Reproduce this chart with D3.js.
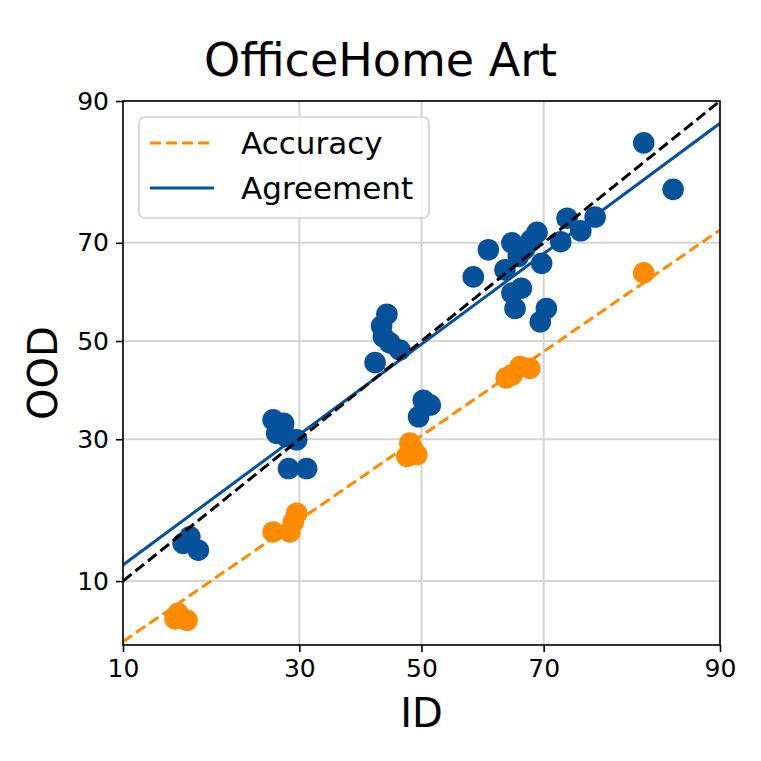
<!DOCTYPE html>
<html>
<head>
<meta charset="utf-8">
<script src="https://cdn.jsdelivr.net/npm/d3@7"></script>
<style>
  body { margin: 0; background: #fff; }
  text { font-family: "DejaVu Sans", sans-serif; }
</style>
</head>
<body>
<script>
// values (percent)
var blueId  = [83.0, 86.0, 73.4, 77.2, 75.3, 72.5, 69.0, 68.1, 65.1, 61.3,
               66.1, 69.7, 64.0, 58.8, 66.6, 65.1, 65.6, 70.4, 69.5, 67.1,
               44.1, 43.2, 43.5, 46.3, 44.6, 42.1, 50.3, 49.5, 51.5,
               26.2, 27.7, 26.7, 28.1, 29.6, 28.4, 31.1,
               16.0, 16.9, 15.3];
var blueOod = [85.5, 79.1, 74.4, 74.6, 72.2, 70.2, 71.9, 70.5, 70.0, 68.7,
               67.4, 66.1, 64.8, 63.4, 61.1, 60.1, 56.9, 56.9, 54.1, 68.8,
               55.7, 53.2, 50.9, 48.1, 49.6, 45.4, 37.6, 34.3, 36.6,
               33.7, 33.0, 31.1, 30.5, 29.9, 24.8, 24.8,
               14.8, 13.2, 14.0];
var orangeId  = [83.0, 65.1, 66.4, 67.9, 64.2, 48.0, 47.5, 49.2, 48.4,
                 26.2, 28.6, 29.6, 29.1, 14.8, 15.7, 14.5];
var orangeOod = [64.2, 42.8, 44.6, 44.2, 42.2, 29.3, 26.9, 27.2, 28.4,
                 15.4, 15.4, 17.9, 16.7, 7.3, 6.8, 6.9];

// linear fits in probit space: [accuracy, agreement]
var fitNames = ["Accuracy", "Agreement"];
var fitSlopes = [0.8576, 0.920];
var fitIntercepts = [-0.5061, -0.0166];

var tickVals = [10, 30, 50, 70, 90];
var xLimits = [10, 90];
var yLimits = [5.23, 90];

// inverse normal cdf (Acklam)
function probit(p) {
  var a = [-3.969683028665376e+01, 2.209460984245205e+02, -2.759285104469687e+02,
           1.383577518672690e+02, -3.066479806614716e+01, 2.506628277459239e+00];
  var b = [-5.447609879822406e+01, 1.615858368580409e+02, -1.556989798598866e+02,
           6.680131188771720e+01, -1.328068155288572e+01];
  var c = [-7.784894002430293e-03, -3.223964580411365e-01, -2.400758277161838e+00,
           -2.549671084400280e+00, 4.374664141464968e+00, 2.938163982698783e+00];
  var d = [7.784695709041462e-03, 3.224671290700398e-01, 2.445134137142996e+00,
           3.754408661907416e+00];
  var plow = 0.02425, q, r;
  if (p < plow) {
    q = Math.sqrt(-2 * Math.log(p));
    return (((((c[0]*q+c[1])*q+c[2])*q+c[3])*q+c[4])*q+c[5]) /
           ((((d[0]*q+d[1])*q+d[2])*q+d[3])*q+1);
  } else if (p <= 1 - plow) {
    q = p - 0.5; r = q * q;
    return (((((a[0]*r+a[1])*r+a[2])*r+a[3])*r+a[4])*r+a[5])*q /
           (((((b[0]*r+b[1])*r+b[2])*r+b[3])*r+b[4])*r+1);
  } else {
    q = Math.sqrt(-2 * Math.log(1 - p));
    return -(((((c[0]*q+c[1])*q+c[2])*q+c[3])*q+c[4])*q+c[5]) /
            ((((d[0]*q+d[1])*q+d[2])*q+d[3])*q+1);
  }
}
function pr(v) { return probit(v / 100); }

var svgWidth = 761, svgHeight = 761;
var plot = { left: 123, right: 720, top: 101, bottom: 645 };

var svg = d3.select("body").append("svg")
  .attr("width", svgWidth)
  .attr("height", svgHeight);

// scales work on probit values
var x = d3.scaleLinear().domain(xLimits.map(pr)).range([plot.left, plot.right]);
var y = d3.scaleLinear().domain(yLimits.map(pr)).range([plot.bottom, plot.top]);

svg.append("defs").append("clipPath").attr("id", "clip")
  .append("rect")
  .attr("x", plot.left).attr("y", plot.top)
  .attr("width", plot.right - plot.left)
  .attr("height", plot.bottom - plot.top);

// grid
var grid = svg.append("g");
grid.selectAll(".gx").data(tickVals).enter().append("line")
  .attr("x1", d => x(pr(d))).attr("x2", d => x(pr(d)))
  .attr("y1", plot.top).attr("y2", plot.bottom)
  .attr("stroke", "#d4d4d4").attr("stroke-width", 2);
grid.selectAll(".gy").data(tickVals).enter().append("line")
  .attr("y1", d => y(pr(d))).attr("y2", d => y(pr(d)))
  .attr("x1", plot.left).attr("x2", plot.right)
  .attr("stroke", "#d4d4d4").attr("stroke-width", 2);

var orange = "#ff8c00", blue = "#05519a";
var chart = svg.append("g").attr("clip-path", "url(#clip)");

function fitLine(i) {
  var x0 = pr(xLimits[0]), x1 = pr(xLimits[1]);
  return [[x0, fitIntercepts[i] + fitSlopes[i] * x0],
          [x1, fitIntercepts[i] + fitSlopes[i] * x1]];
}
var line = d3.line().x(d => x(d[0])).y(d => y(d[1]));

// accuracy fit
chart.append("path")
  .attr("d", line(fitLine(0)))
  .attr("fill", "none").attr("stroke", orange)
  .attr("stroke-width", 3).attr("stroke-dasharray", "11,5");

chart.selectAll(".acc").data(orangeId).enter().append("circle")
  .attr("cx", d => x(pr(d)))
  .attr("cy", (d, i) => y(pr(orangeOod[i])))
  .attr("r", 10.8).attr("fill", orange);

chart.selectAll(".agr").data(blueId).enter().append("circle")
  .attr("cx", d => x(pr(d)))
  .attr("cy", (d, i) => y(pr(blueOod[i])))
  .attr("r", 10.8).attr("fill", blue);

chart.append("path")
  .attr("d", line(fitLine(1)))
  .attr("fill", "none").attr("stroke", blue)
  .attr("stroke-width", 3);

// y = x
chart.append("path")
  .attr("d", line([[pr(xLimits[0]), pr(xLimits[0])], [pr(xLimits[1]), pr(xLimits[1])]]))
  .attr("fill", "none").attr("stroke", "#000")
  .attr("stroke-width", 3).attr("stroke-dasharray", "11,5");

// axes
var xAxis = d3.axisBottom(x)
  .tickValues(tickVals.map(pr))
  .tickFormat((d, i) => tickVals[i])
  .tickSize(7).tickPadding(7);
var yAxis = d3.axisLeft(y)
  .tickValues(tickVals.map(pr))
  .tickFormat((d, i) => tickVals[i])
  .tickSize(7).tickPadding(7);

var gx = svg.append("g").attr("transform", `translate(0,${plot.bottom})`).call(xAxis);
var gy = svg.append("g").attr("transform", `translate(${plot.left},0)`).call(yAxis);
[gx, gy].forEach(function(g) {
  g.select(".domain").remove();
  g.selectAll(".tick line").attr("stroke", "#000").attr("stroke-width", 1.6);
  g.selectAll(".tick text").attr("fill", "#000")
    .style("font-size", "25px").style("font-family", "DejaVu Sans");
});

// frame
svg.append("rect")
  .attr("x", plot.left).attr("y", plot.top)
  .attr("width", plot.right - plot.left)
  .attr("height", plot.bottom - plot.top)
  .attr("fill", "none").attr("stroke", "#000").attr("stroke-width", 1.6);

// titles (suptitle is centred on the figure)
svg.append("text")
  .attr("x", svgWidth / 2).attr("y", 76)
  .attr("text-anchor", "middle")
  .style("font-size", "46px")
  .text("OfficeHome Art");
svg.append("text")
  .attr("x", (plot.left + plot.right) / 2).attr("y", 727)
  .attr("text-anchor", "middle")
  .style("font-size", "40px")
  .text("ID");
svg.append("text")
  .attr("transform", `translate(57,${(plot.top + plot.bottom) / 2}) rotate(-90)`)
  .attr("text-anchor", "middle")
  .style("font-size", "40px")
  .text("OOD");

// legend
var legend = svg.append("g");
legend.append("rect")
  .attr("x", 139).attr("y", 117).attr("width", 290).attr("height", 101)
  .attr("rx", 6)
  .attr("fill", "#fff").attr("fill-opacity", 0.8)
  .attr("stroke", "#d0d0d0").attr("stroke-width", 1.6);
var legendItems = [
  { name: fitNames[0], color: orange, dash: "11,5", yPos: 143 },
  { name: fitNames[1], color: blue, dash: null, yPos: 188 }
];
legendItems.forEach(function(it) {
  legend.append("line")
    .attr("x1", 150).attr("x2", 214)
    .attr("y1", it.yPos).attr("y2", it.yPos)
    .attr("stroke", it.color).attr("stroke-width", 3)
    .attr("stroke-dasharray", it.dash);
  legend.append("text")
    .attr("x", 241).attr("y", it.yPos + 11)
    .style("font-size", "31px")
    .text(it.name);
});
</script>
</body>
</html>
